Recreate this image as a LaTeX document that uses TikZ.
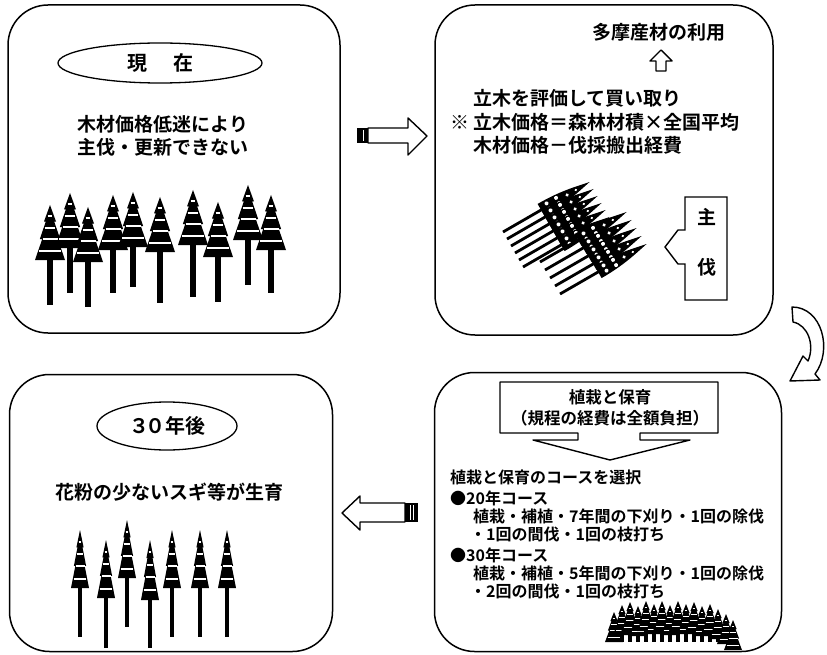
\documentclass[tikz,border=0pt]{standalone}
\usepackage{fontspec}
\setmainfont{Noto Sans CJK JP}[BoldFont={Noto Sans CJK JP Bold}]
\usepackage{tikz}
\usetikzlibrary{shapes.geometric}

% standing cedar: x, top, crown height, half width, foot of trunk
\newcommand{\sugi}[5]{%
  \fill (#1-0.18*#4-0.5,#2+#3-1) rectangle (#1+0.18*#4+0.5,#5);
  \begin{scope}[shift={(#1,#2)},xscale=#4,yscale=#3]
    \fill (0,0) -- (0.4,0.3) -- (0.28,0.3) -- (0.68,0.62) -- (0.52,0.62) -- (1,1)
      -- (-1,1) -- (-0.52,0.62) -- (-0.68,0.62) -- (-0.28,0.3) -- (-0.4,0.3) -- cycle;
    \draw[white,line width=0.032*#3pt] (-0.16,0.2) -- (0.16,0.2) (-0.36,0.42) -- (0.36,0.42)
      (-0.5,0.62) -- (0.5,0.62) (-0.72,0.84) -- (0.72,0.84);
  \end{scope}}

% felled cedar lying towards the upper right, from the cut end
\newcommand{\felled}[2]{%
  \begin{scope}[shift={(#1,#2)},rotate=30]
    \draw[line width=2.8pt] (0,0) -- (50,0);
    \fill (44,-7) .. controls (70,-7) and (85,-3) .. (100,0)
      .. controls (85,3) and (70,7) .. (44,7) -- cycle;
    \fill[white] (52,-3) circle (2) (52,3) circle (2) (63,-3) circle (2)
      (63,3) circle (2) (74,0) circle (1.8) (84,0) circle (1.3);
  \end{scope}}

\begin{document}
\begin{tikzpicture}[x=1pt,y=-1pt,
  panel/.style={draw,line width=1.5pt,rounded corners=40pt,inner sep=0pt},
  oval/.style={draw,ellipse,line width=1.3pt,inner sep=0pt},
  big/.style={font=\bfseries\fontsize{19}{23}\selectfont,inner sep=0pt},
  small/.style={font=\bfseries\fontsize{16}{19}\selectfont,inner sep=0pt,anchor=west},
  hollow/.style={draw,line width=1.4pt,fill=white,line join=round}]

\useasboundingbox (0,0) rectangle (827,655);

% the four stages
\node[panel,minimum width=332,minimum height=328] (now) at (174,169) {};
\node[panel,minimum width=338,minimum height=330] (buy) at (604,170) {};
\node[panel,minimum width=347,minimum height=279] (plant) at (608,512) {};
\node[panel,minimum width=323,minimum height=277] (later) at (171,513) {};

% now
\node[oval,minimum width=204,minimum height=40,big,font=\bfseries\fontsize{20}{24}\selectfont] (nowtag) at (160,63) {現\hspace{26pt}在};
\node[big,align=center] (nowtxt) at (163,136) {木材価格低迷により\\主伐・更新できない};
\sugi{50}{205}{55}{15}{305}
\sugi{70}{193}{55}{15}{293}
\sugi{88}{207}{55}{15}{307}
\sugi{113}{195}{55}{15}{293}
\sugi{133}{192}{55}{15}{287}
\sugi{160}{197}{55}{15}{303}
\sugi{193}{190}{55}{15}{297}
\sugi{218}{202}{55}{15}{302}
\sugi{248}{185}{55}{15}{285}
\sugi{271}{195}{55}{15}{293}

% buying the standing trees
\node[big] (usetxt) at (659,32) {多摩産材の利用};
\draw[hollow] (656,71) -- (656,61) -- (650,61) -- (661,50) -- (672,61) -- (666,61) -- (666,71) -- cycle;
\node[big,anchor=west] (buy1) at (473,98) {立木を評価して買い取り};
\node[big,anchor=west] (buy2) at (450,122) {※\hspace{4pt}立木価格＝森林材積×全国平均};
\node[big,anchor=west] (buy3) at (473,145) {木材価格－伐採搬出経費};
\foreach \k in {0,...,5} {\felled{503+4*\k}{232+7*\k}}
\foreach \k in {0,...,4} {\felled{540+5*\k}{262+8*\k}}
\draw[line width=1.4pt] (685,197) -- (727,197) -- (727,300) -- (685,300) -- (685,264)
  -- (678,264) -- (665,247) -- (678,230) -- (685,230) -- cycle;
\node[big] (fell1) at (707,217) {主};
\node[big] (fell2) at (707,267) {伐};

% planting and tending
\draw[hollow] (578,433) -- (500,433) -- (500,382) -- (718,382) -- (718,433) -- (640,433)
  -- (640,440) -- (690,440) -- (610,460) -- (533,440) -- (578,440) -- cycle;
\node[big,font=\bfseries\fontsize{16.5}{21}\selectfont,align=center] (care) at (610,408) {植栽と保育\\（規程の経費は全額負担）};
\node[small] (course) at (450,477) {植栽と保育のコースを選択};
\node[small] (c20) at (450,498) {●20年コース};
\node[small] (c20a) at (473,516) {植栽・補植・7年間の下刈り・1回の除伐};
\node[small] (c20b) at (470,534) {・1回の間伐・1回の枝打ち};
\node[small] (c30) at (450,555) {●30年コース};
\node[small] (c30a) at (473,573) {植栽・補植・5年間の下刈り・1回の除伐};
\node[small] (c30b) at (470,591) {・2回の間伐・1回の枝打ち};
\foreach \x/\t in {614/612,622/605,630/602,638/606,646/601,654/604,662/601,
  670/605,678/601,686/604,694/602,702/606,710/604,718/609,726/614,733/620}
  {\sugi{\x}{\t}{30}{9}{642}}

% thirty years on
\node[oval,minimum width=140,minimum height=48,big,font=\bfseries\fontsize{20}{24}\selectfont] (latertag) at (167,426) {３\hspace{-4pt}０年後};
\node[big] (latertxt) at (169,492) {花粉の少ないスギ等が生育};
\sugi{80}{530}{58}{9}{637}
\sugi{106}{540}{58}{9}{648}
\sugi{127}{520}{58}{9}{627}
\sugi{150}{540}{60}{9}{648}
\sugi{172}{530}{58}{9}{637}
\sugi{200}{530}{58}{9}{637}
\sugi{227}{530}{58}{9}{637}

% block arrows between the stages
\draw[hollow] (368,128) -- (408,128) -- (408,118) -- (427,136) -- (408,155) -- (408,143) -- (368,143) -- cycle;
\fill (357,128) rectangle (368,143);
\draw[white,line width=1pt] (363,130) -- (363,141);
\draw[hollow] (792,307) -- (793,322) .. controls (808,325) and (815,345) .. (808,361)
  -- (803,356) -- (790,381) -- (820,380) -- (815,374)
  .. controls (833,350) and (822,307) .. (792,307) -- cycle;
\draw[hollow] (405,503) -- (360,503) -- (360,496) -- (342,513) -- (360,530) -- (360,522) -- (405,522) -- cycle;
\fill (405,503) rectangle (418,522);
\draw[white,line width=1pt] (410,505) -- (410,520) (413,505) -- (413,520);
\end{tikzpicture}
\end{document}
